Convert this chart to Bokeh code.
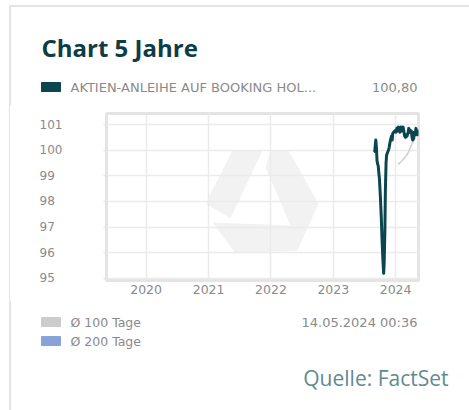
import datetime as dt
from bokeh.plotting import figure
from bokeh.layouts import column, row
from bokeh.models import (FixedTicker, DatetimeTickFormatter, Range1d,
                          PolyAnnotation, ColumnDataSource)
from bokeh.core.properties import value
from bokeh.embed import file_html
from bokeh.resources import INLINE

# ---------------- data ----------------
title_text = "Chart 5 Jahre"
series_name = "AKTIEN-ANLEIHE AUF BOOKING HOL..."
last_value_text = "100,80"
ma100_name = "Ø 100 Tage"
ma200_name = "Ø 200 Tage"
timestamp_text = "14.05.2024 00:36"
source_text = "Quelle: FactSet"

price_dates = [
    "2023-08-30", "2023-09-01", "2023-09-04", "2023-09-07", "2023-09-11", "2023-09-14",
    "2023-09-18", "2023-09-21", "2023-09-25", "2023-09-28", "2023-10-03", "2023-10-09",
    "2023-10-13", "2023-10-18", "2023-10-23", "2023-10-26", "2023-10-30", "2023-11-02",
    "2023-11-06", "2023-11-09", "2023-11-14", "2023-11-20", "2023-11-24", "2023-11-29",
    "2023-12-04", "2023-12-08", "2023-12-12", "2023-12-15", "2023-12-20", "2023-12-27",
    "2024-01-03", "2024-01-08", "2024-01-12", "2024-01-17", "2024-01-22", "2024-01-26",
    "2024-01-31", "2024-02-05", "2024-02-09", "2024-02-14", "2024-02-19", "2024-02-23",
    "2024-02-28", "2024-03-04", "2024-03-08", "2024-03-13", "2024-03-18", "2024-03-22",
    "2024-03-27", "2024-04-02", "2024-04-05", "2024-04-10", "2024-04-15", "2024-04-19",
    "2024-04-24", "2024-04-29", "2024-05-03", "2024-05-08", "2024-05-13",
]
price_values = [
    100.00, 99.95, 100.20, 100.40, 100.05, 99.60,
    99.45, 99.40, 99.10, 98.90, 98.30, 97.40,
    96.60, 95.80, 95.20, 95.60, 96.80, 98.40,
    99.50, 99.80, 99.90, 100.00, 100.10, 100.30,
    100.45, 100.55, 100.40, 100.65, 100.70, 100.75,
    100.70, 100.85, 100.75, 100.90, 100.85, 100.70,
    100.90, 100.80, 100.75, 100.90, 100.70, 100.55,
    100.50, 100.60, 100.55, 100.65, 100.85, 100.80,
    100.70, 100.75, 100.55, 100.40, 100.45, 100.70,
    100.60, 100.85, 100.70, 100.60, 100.80,
]
ma100_dates = [
    "2024-01-15", "2024-01-25", "2024-02-05", "2024-02-15", "2024-02-26", "2024-03-08",
    "2024-03-18", "2024-03-28", "2024-04-08", "2024-04-18", "2024-04-29", "2024-05-13",
]
ma100_values = [
    99.45, 99.50, 99.57, 99.65, 99.73, 99.82,
    99.95, 100.12, 100.28, 100.42, 100.55, 100.65,
]
y_ticks = [95, 96, 97, 98, 99, 100, 101]
y_tick_labels = ["95", "96", "97", "98", "99", "100", "101"]
x_tick_years = [2020, 2021, 2022, 2023, 2024]
x_start = "2019-05-14"
x_end = "2024-05-14"
y_min, y_max = 94.92, 101.43

# ---------------- layout (page pixels) ----------------
W = 469
HEAD_H = 105          # header strip: page y 0..105
CHART_H = 195         # chart strip: page y 105..300
FOOT_H = 110          # footer strip: page y 300..410
FRAME_LEFT = 106
FRAME_TOP, FRAME_BOT = 8, 20
FRAME_RIGHT_PAD = 51

GRAY_TXT = "#8a8a8a"
BORDER = "#e4e4e4"
FONT = "DejaVu Sans"
FIG_SPACE = "\u2007"   # digit-wide space: keeps the tick labels left-aligned
EPOCH = dt.datetime(1970, 1, 1)


def to_dt(s):
    return dt.datetime.fromisoformat(s)


def ms(d):
    return (d - EPOCH).total_seconds() * 1000.0


def blank_fig(width, height, x_range, y_range):
    f = figure(width=width, height=height, x_range=x_range, y_range=y_range,
               output_backend="svg", toolbar_location=None,
               x_axis_location=None, y_axis_location=None,
               min_border=0, min_border_left=0, min_border_right=0,
               min_border_top=0, min_border_bottom=0)
    f.grid.visible = False
    f.outline_line_color = None
    f.background_fill_color = "white"
    f.border_fill_color = "white"
    return f


def txt(f, x, y, s, size="13px", color=GRAY_TXT, font=FONT, align="left",
        style="normal"):
    f.text(x=[x], y=[y], text=[s], text_font=value(font),
           text_font_size=value(size), text_color=color, text_align=align,
           text_baseline="middle", text_font_style=style)


# ---------------- header ----------------
head = blank_fig(W, HEAD_H, Range1d(0, W), Range1d(HEAD_H, 0))
head.quad(left=[9], right=[10], top=[5], bottom=[HEAD_H], color=BORDER)
head.quad(left=[9], right=[W], top=[5], bottom=[6], color=BORDER)
txt(head, 41, 47, title_text, size="24px", color="#0d3c46", font="Open Sans",
    style="bold")
head.quad(left=[41], right=[60], top=[82], bottom=[91], color="#0b4650")
txt(head, 70, 87, series_name)
txt(head, 417, 87, last_value_text, align="right")

# ---------------- chart ----------------
main = figure(width=W, height=CHART_H, x_axis_type="datetime",
              x_range=Range1d(to_dt(x_start), to_dt(x_end)),
              y_range=Range1d(y_min, y_max),
              output_backend="svg", toolbar_location=None,
              min_border_left=FRAME_LEFT, min_border_right=FRAME_RIGHT_PAD,
              min_border_top=FRAME_TOP, min_border_bottom=FRAME_BOT)
main.background_fill_color = "white"
main.border_fill_color = None
main.styles = {"background": "linear-gradient(to right, #ffffff 0px, #ffffff 9px, "
                             "#e4e4e4 9px, #e4e4e4 10px, #ffffff 10px, #ffffff 100%)"}
main.outline_line_color = BORDER
main.outline_line_width = 3

year_ticks = [ms(dt.datetime(y, 1, 1)) for y in x_tick_years]
main.xgrid.ticker = FixedTicker(ticks=year_ticks)
main.ygrid.ticker = FixedTicker(ticks=y_ticks)
for g in (main.xgrid, main.ygrid):
    g.grid_line_color = "#ebebeb"
    g.grid_line_width = 1.5

main.xaxis.ticker = FixedTicker(ticks=year_ticks)
main.xaxis.formatter = DatetimeTickFormatter(years="%Y", months="%Y", days="%Y",
                                             hours="%Y", minutes="%Y",
                                             seconds="%Y")
main.xaxis.axis_line_color = None
main.xaxis.major_tick_line_color = None
main.xaxis.minor_tick_line_color = None
main.xaxis.major_tick_out = 0
main.xaxis.minor_tick_out = 0
main.xaxis.major_label_standoff = 4
main.xaxis.major_label_text_font = FONT
main.xaxis.major_label_text_font_size = "12.5px"
main.xaxis.major_label_text_color = GRAY_TXT

width3 = max(len(s) for s in y_tick_labels)
main.yaxis.ticker = FixedTicker(ticks=y_ticks)
main.yaxis.major_label_overrides = {
    t: s + FIG_SPACE * (width3 - len(s)) for t, s in zip(y_ticks, y_tick_labels)}
main.yaxis.axis_line_color = None
main.yaxis.minor_tick_line_color = None
main.yaxis.major_tick_line_color = BORDER
main.yaxis.major_tick_line_width = 1.5
main.yaxis.major_tick_out = 3
main.yaxis.major_tick_in = 0
main.yaxis.major_label_standoff = 41
main.yaxis.major_label_text_font = FONT
main.yaxis.major_label_text_font_size = "12px"
main.yaxis.major_label_text_color = GRAY_TXT

# watermark (decoration), frame-relative screen units (bottom origin)
frame_h = CHART_H - FRAME_TOP - FRAME_BOT
frame_bottom_page = HEAD_H + FRAME_TOP + frame_h
wm_color = "#f2f2f2"
for xs, ys in [
    ([232, 262, 230, 205], [150, 150, 218, 203]),
    ([212, 292, 297, 235], [222, 225, 250, 253]),
    ([270, 288, 318, 297, 290, 265], [150, 150, 203, 250, 225, 167]),
]:
    main.add_layout(PolyAnnotation(
        xs=[v - FRAME_LEFT for v in xs],
        ys=[frame_bottom_page - v for v in ys],
        xs_units="screen", ys_units="screen", fill_color=wm_color,
        fill_alpha=1.0, line_color=None, level="image"))

ma_src = ColumnDataSource(dict(d=[to_dt(s) for s in ma100_dates], v=ma100_values))
pr_src = ColumnDataSource(dict(d=[to_dt(s) for s in price_dates], v=price_values))
main.line(x="d", y="v", source=ma_src, line_color="#d0d0d0", line_width=1.6)
main.line(x="d", y="v", source=pr_src, line_color="#0b4650", line_width=3,
          line_join="round")

# ---------------- footer ----------------
top = HEAD_H + CHART_H
foot = blank_fig(W, FOOT_H, Range1d(0, W), Range1d(top + FOOT_H, top))
foot.quad(left=[9], right=[10], top=[top], bottom=[top + FOOT_H], color=BORDER)
foot.quad(left=[41], right=[60], top=[317], bottom=[326], color="#cccccc")
txt(foot, 70, 322, ma100_name, size="12.5px")
foot.quad(left=[41], right=[60], top=[336], bottom=[345], color="#88a3d8")
txt(foot, 70, 341, ma200_name, size="12.5px")
txt(foot, 417, 322, timestamp_text, align="right")
txt(foot, 448, 377, source_text, size="21px", color="#5f8a91",
    font="Open Sans", align="right")

# the chart sits in its own row so its frame is not aligned with the strips
layout = column(head, row(main), foot)
open("out.html", "w").write(file_html(layout, INLINE))
